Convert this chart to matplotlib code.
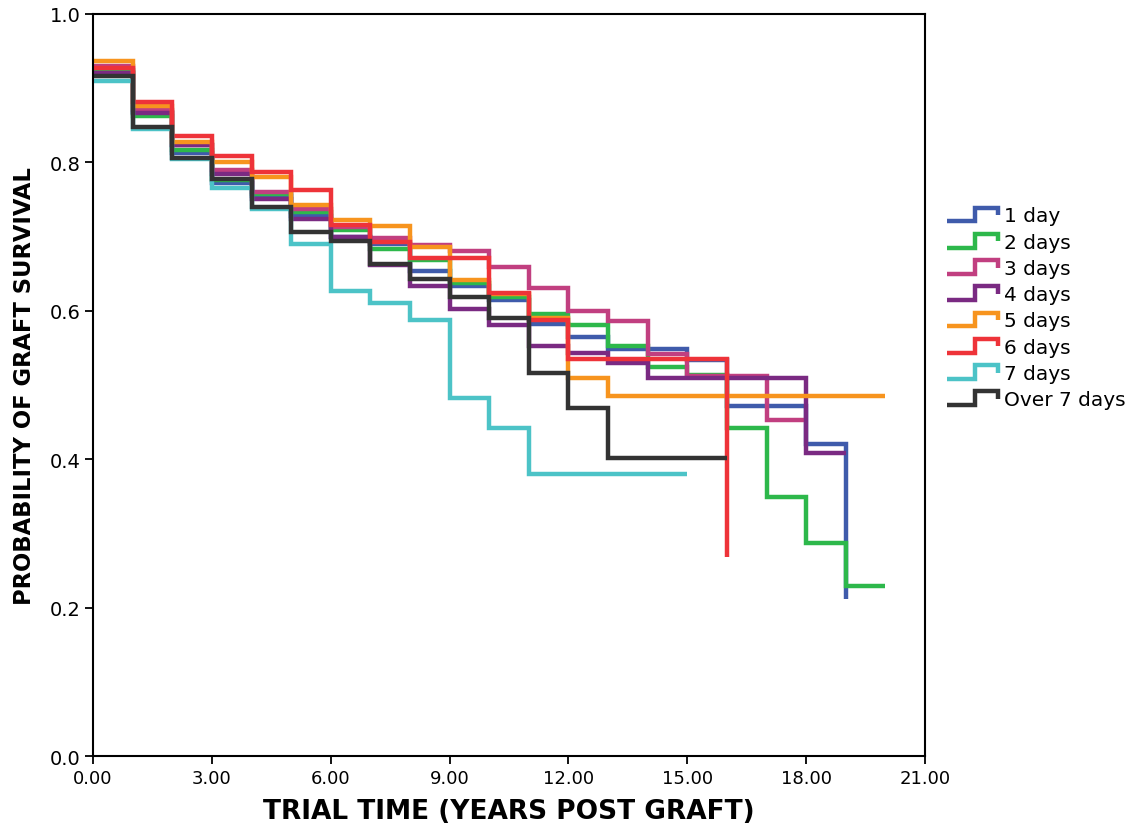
import matplotlib
matplotlib.use("Agg")
import matplotlib.pyplot as plt
from matplotlib.legend_handler import HandlerBase
from matplotlib.lines import Line2D

# survival at the start of each year (t = 0, 1, 2, ...), and the time each curve ends
labels = ["1 day", "2 days", "3 days", "4 days", "5 days", "6 days", "7 days", "Over 7 days"]

day1 = [0.924, 0.868, 0.813, 0.772, 0.754, 0.728, 0.700, 0.690, 0.653, 0.633, 0.614,
        0.582, 0.564, 0.548, 0.548, 0.534, 0.472, 0.472, 0.420, 0.212]
day2 = [0.922, 0.862, 0.817, 0.776, 0.757, 0.733, 0.709, 0.683, 0.668, 0.638, 0.618,
        0.596, 0.581, 0.553, 0.524, 0.513, 0.442, 0.349, 0.287, 0.229]
day3 = [0.930, 0.871, 0.824, 0.790, 0.760, 0.737, 0.713, 0.698, 0.689, 0.680, 0.659,
        0.631, 0.600, 0.586, 0.542, 0.512, 0.512, 0.453]
day4 = [0.920, 0.866, 0.823, 0.784, 0.750, 0.723, 0.700, 0.661, 0.634, 0.603, 0.581,
        0.552, 0.543, 0.530, 0.509, 0.509, 0.509, 0.509, 0.408]
day5 = [0.936, 0.876, 0.828, 0.800, 0.780, 0.743, 0.722, 0.714, 0.686, 0.642, 0.622,
        0.590, 0.509, 0.485, 0.485, 0.485, 0.485, 0.485, 0.485, 0.485]
day6 = [0.927, 0.881, 0.835, 0.808, 0.787, 0.763, 0.715, 0.692, 0.671, 0.671, 0.624,
        0.588, 0.535, 0.535, 0.535, 0.535, 0.268]
day7 = [0.910, 0.845, 0.805, 0.765, 0.737, 0.690, 0.626, 0.610, 0.587, 0.482, 0.442,
        0.380, 0.380, 0.380, 0.380]
over7 = [0.916, 0.848, 0.806, 0.778, 0.740, 0.706, 0.694, 0.663, 0.643, 0.619, 0.590,
         0.516, 0.469, 0.402, 0.402, 0.402]

series = [day1, day2, day3, day4, day5, day6, day7, over7]
end_times = [19, 20, 18, 19, 20, 16, 15, 16]
colors = ["#3f5bab", "#2db84b", "#c13f80", "#7a2a82", "#f7941e", "#ee3339", "#4cc3c7", "#333333"]

x_ticks = [0, 3, 6, 9, 12, 15, 18, 21]
y_ticks = [0.0, 0.2, 0.4, 0.6, 0.8, 1.0]


class StepHandler(HandlerBase):
    # legend key drawn as a small step, like the SPSS survival legend
    def create_artists(self, legend, orig_handle, xdescent, ydescent, width, height, fontsize, trans):
        x0 = -xdescent
        y0 = -ydescent
        xs = [x0, x0 + width * 0.55, x0 + width * 0.55, x0 + width, x0 + width]
        ys = [y0 + height * 0.05, y0 + height * 0.05, y0 + height * 0.95, y0 + height * 0.95, y0 + height * 0.45]
        ln = Line2D(xs, ys, color=orig_handle.get_color(), lw=orig_handle.get_linewidth(),
                    solid_joinstyle="miter", solid_capstyle="butt")
        ln.set_transform(trans)
        return [ln]


fig = plt.figure(figsize=(11.43, 8.28), dpi=100)
ax = fig.add_axes([0.0814, 0.0857, 0.7279, 0.8963])

handles = []
for vals, end, col, lab in zip(series, end_times, colors, labels):
    xs = list(range(len(vals))) + [end]
    ys = vals + [vals[-1]]
    h, = ax.step(xs, ys, where="post", color=col, lw=3.2, label=lab,
                 solid_joinstyle="miter", solid_capstyle="butt")
    handles.append(h)

ax.set_xlim(0, 21)
ax.set_ylim(0, 1.0)
ax.set_xticks(x_ticks)
ax.set_xticklabels([f"{t:.2f}" for t in x_ticks], family="DejaVu Sans", fontsize=13)
ax.set_yticks(y_ticks)
ax.set_yticklabels([f"{v:.1f}" for v in y_ticks], family="DejaVu Sans", fontsize=14)
ax.tick_params(direction="out", length=6, width=1.3, color="black", pad=3)
for sp in ax.spines.values():
    sp.set_linewidth(1.5)

ax.set_xlabel("TRIAL TIME (YEARS POST GRAFT)", family="DejaVu Sans", fontweight="bold",
              fontsize=19, labelpad=8)
ax.set_ylabel("PROBABILITY OF GRAFT SURVIVAL", family="DejaVu Sans", fontweight="bold",
              fontsize=16.3, labelpad=10)

leg = fig.legend(handles=handles, labels=labels, handler_map={Line2D: StepHandler()},
                 loc="center left", bbox_to_anchor=(0.813, 0.627), frameon=False,
                 prop={"family": "DejaVu Sans", "size": 14.5}, handlelength=2.5, handleheight=0.8,
                 handletextpad=0.3, labelspacing=0.36)

plt.savefig("out.png", dpi=100)
